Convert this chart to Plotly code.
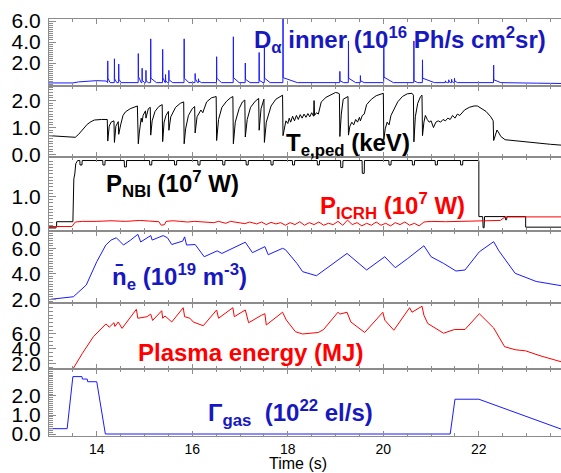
import plotly.graph_objects as go

# ---------------------------------------------------------------- signals --
# D-alpha inner: quiet level before the first ELM, then individual ELM spikes
da_quiet_t = [13.00, 13.50, 13.62, 13.80, 14.00, 14.20]
da_quiet_v = [0.10, 0.10, 0.20, 0.28, 0.32, 0.28]
da_floor = 0.13
elm_t = [14.23, 14.37, 14.46, 14.87, 14.95, 15.03, 15.13, 15.38, 15.44, 15.51,
         15.83, 16.06, 16.13, 16.51, 16.86, 17.11, 17.40, 17.51, 17.90, 19.09,
         19.27, 19.52, 20.01, 20.64, 20.82, 21.30, 21.37, 21.43, 21.49, 22.31]
elm_peak = [2.2, 2.4, 1.9, 2.9, 1.5, 1.3, 4.3, 3.3, 0.9, 1.3,
            4.3, 1.0, 0.5, 2.6, 4.5, 2.0, 3.0, 3.5, 6.5, 1.2,
            4.1, 0.8, 3.7, 4.1, 2.3, 0.30, 0.40, 0.45, 0.55, 1.8]
elm_tail = [0.55, 0.50, 0.45, 0.70, 0.35, 0.30, 0.55, 0.60, 0.30, 0.40,
            0.55, 0.50, 0.30, 0.55, 0.60, 0.45, 0.35, 0.55, 0.60, 0.30,
            0.55, 0.30, 0.65, 0.30, 0.55, 0.20, 0.25, 0.25, 0.30, 0.40]
elm_len = [0.05, 0.05, 0.05, 0.06, 0.05, 0.05, 0.12, 0.05, 0.04, 0.08,
           0.10, 0.05, 0.06, 0.10, 0.12, 0.10, 0.08, 0.12, 0.30, 0.08,
           0.15, 0.08, 0.20, 0.08, 0.25, 0.04, 0.04, 0.04, 0.06, 0.15]
da_end_t = [22.70, 23.20, 23.72]
da_end_v = [0.13, 0.08, 0.05]

# pedestal electron temperature (keV)
te_t = [13.00, 13.30, 13.55, 13.62, 13.70, 13.80, 13.88, 13.95, 14.10, 14.22,
        14.23, 14.26, 14.30, 14.36, 14.37, 14.40, 14.45, 14.46, 14.50, 14.55,
        14.60, 14.70, 14.85, 14.87, 14.89, 14.93, 14.95, 14.97, 15.02, 15.03,
        15.08, 15.12, 15.13, 15.16, 15.22, 15.30, 15.37, 15.38, 15.41, 15.45,
        15.50, 15.51, 15.55, 15.65, 15.75, 15.82, 15.83, 15.86, 15.92, 16.00,
        16.05, 16.06, 16.10, 16.18, 16.22, 16.30, 16.40, 16.50, 16.51, 16.55,
        16.62, 16.72, 16.80, 16.85, 16.86, 16.90, 16.98, 17.05, 17.10, 17.11,
        17.15, 17.22, 17.32, 17.39, 17.40, 17.44, 17.50, 17.51, 17.55, 17.65,
        17.75, 17.85, 17.89, 17.90, 17.93, 17.96, 18.00, 18.03, 18.06, 18.10,
        18.14, 18.18, 18.22, 18.26, 18.30, 18.34, 18.38, 18.42, 18.46, 18.50,
        18.54, 18.55, 18.56, 18.60, 18.64, 18.70, 18.80, 18.95, 19.00, 19.05,
        19.08, 19.09, 19.12, 19.16, 19.22, 19.26, 19.27, 19.30, 19.34, 19.38,
        19.42, 19.46, 19.50, 19.52, 19.56, 19.60, 19.65, 19.75, 19.85, 19.95,
        20.00, 20.01, 20.04, 20.08, 20.12, 20.16, 20.20, 20.30, 20.40, 20.50,
        20.60, 20.63, 20.64, 20.67, 20.72, 20.78, 20.81, 20.82, 20.85, 20.88,
        20.92, 20.96, 21.00, 21.05, 21.10, 21.15, 21.20, 21.25, 21.30, 21.35,
        21.40, 21.45, 21.50, 21.55, 21.60, 21.65, 21.70, 21.80, 21.90, 21.97,
        22.05, 22.15, 22.25, 22.30, 22.31, 22.35, 22.38, 22.42, 22.46, 22.55,
        22.80, 23.00, 23.10, 23.30, 23.50, 23.72]
te_v = [0.70, 0.68, 0.64, 0.75, 0.92, 1.12, 1.22, 1.28, 1.30, 1.30,
        0.50, 1.05, 1.20, 1.25, 0.45, 1.05, 1.22, 0.75, 1.10, 1.45,
        1.58, 1.70, 1.80, 0.40, 0.80, 1.35, 1.20, 1.45, 1.62, 1.35,
        1.70, 1.75, 0.72, 1.25, 1.60, 1.78, 1.85, 0.48, 1.20, 1.45,
        1.60, 0.90, 1.40, 1.75, 1.90, 1.95, 0.40, 0.95, 1.45, 1.70,
        1.78, 0.80, 1.40, 1.65, 1.55, 1.95, 2.10, 2.15, 0.52, 1.30,
        1.75, 1.98, 2.10, 2.15, 0.40, 1.20, 1.70, 1.95, 2.02, 0.65,
        1.30, 1.75, 1.98, 2.08, 0.90, 1.70, 2.05, 0.45, 1.20, 1.80,
        2.05, 2.18, 2.20, 0.70, 1.05, 1.25, 1.15, 1.35, 1.20, 1.42,
        1.25, 1.45, 1.30, 1.48, 1.35, 1.50, 1.38, 1.52, 1.40, 1.55,
        1.42, 2.00, 1.45, 1.55, 1.50, 1.95, 2.12, 2.25, 2.30, 2.28,
        2.25, 0.67, 1.50, 2.05, 2.12, 2.15, 0.72, 1.05, 1.20, 1.10,
        1.30, 1.20, 1.38, 1.25, 1.45, 1.50, 1.85, 2.05, 2.18, 2.25,
        2.27, 0.55, 0.95, 1.20, 1.10, 1.45, 1.60, 1.95, 2.15, 2.25,
        2.27, 2.20, 0.47, 1.40, 1.90, 2.15, 2.20, 0.70, 1.20, 1.45,
        1.30, 1.20, 1.25, 1.00, 1.20, 1.25, 1.20, 1.30, 1.25, 1.35,
        1.30, 1.45, 1.35, 1.50, 1.45, 1.55, 1.65, 1.75, 1.80, 1.80,
        1.72, 1.60, 1.40, 1.25, 0.52, 0.75, 0.91, 0.80, 0.67, 0.55,
        0.50, 0.48, 0.45, 0.42, 0.38, 0.35]

# NBI power (1e7 W): flat top with short beam-switching notches
nbi_t = [13.00, 13.16, 13.16, 13.50, 13.52, 13.54, 13.56, 13.60]
nbi_v = [0.04, 0.04, 0.21, 0.21, 1.55, 1.70, 2.02, 2.12]
nbi_top = 2.12
notch_t = [13.67, 14.15, 14.60, 15.13, 15.65, 16.14, 16.66, 17.15, 17.67,
           18.12, 18.64, 19.13, 19.58, 20.14, 20.63, 21.11, 21.64]
notch_v = [1.98, 1.98, 1.92, 1.98, 1.98, 1.98, 1.98, 1.98, 1.98,
           1.98, 1.98, 1.90, 1.72, 1.98, 1.98, 1.98, 1.98]
nbi_end_t = [22.00, 22.00, 22.08, 22.09, 22.11, 22.12, 22.55, 22.56, 22.58,
             22.59, 22.98, 22.98, 23.72]
nbi_end_v = [2.12, 0.37, 0.37, 0.02, 0.02, 0.37, 0.37, 0.27, 0.27,
             0.37, 0.37, 0.04, 0.04]

# ICRH power (1e7 W)
icrh_t = [13.00, 13.48, 13.55, 13.70, 14.00, 14.30, 14.60, 14.90, 15.10, 15.30,
          15.35, 15.42, 15.45, 15.60, 15.75, 15.90, 16.05, 16.30, 16.45, 16.55,
          16.70, 16.80, 16.95, 17.10, 17.20, 17.35, 17.45, 17.55, 17.65, 17.75,
          17.85, 17.95, 18.05, 18.15, 18.25, 18.35, 18.45, 18.55, 18.65, 18.75,
          18.85, 18.95, 19.05, 19.15, 19.25, 19.35, 19.45, 19.55, 19.65, 19.75,
          19.85, 19.95, 20.05, 20.15, 20.25, 20.35, 20.45, 20.55, 20.65, 20.75,
          20.85, 21.00, 21.30, 21.60, 21.90, 22.20, 22.45, 22.55, 23.72]
icrh_v = [0.06, 0.06, 0.20, 0.22, 0.22, 0.24, 0.22, 0.25, 0.23, 0.21,
          0.10, 0.12, 0.22, 0.24, 0.22, 0.20, 0.22, 0.20, 0.18, 0.22,
          0.16, 0.22, 0.18, 0.15, 0.20, 0.14, 0.20, 0.12, 0.19, 0.14,
          0.18, 0.10, 0.18, 0.12, 0.21, 0.10, 0.18, 0.12, 0.20, 0.10,
          0.16, 0.12, 0.22, 0.10, 0.26, 0.12, 0.18, 0.08, 0.16, 0.10,
          0.20, 0.10, 0.16, 0.08, 0.18, 0.12, 0.20, 0.10, 0.16, 0.08,
          0.20, 0.22, 0.21, 0.22, 0.22, 0.23, 0.25, 0.36, 0.36]

# line-averaged density (1e19 m^-3)
ne_t = [13.03, 13.51, 13.78, 14.00, 14.19, 14.30, 14.41, 14.56, 14.71, 14.86,
        14.92, 15.13, 15.16, 15.39, 15.48, 15.57, 15.80, 15.84, 15.88, 16.06,
        16.25, 16.47, 16.52, 16.62, 16.92, 17.11, 17.26, 17.52, 17.59, 17.89,
        17.95, 18.19, 18.31, 18.60, 19.24, 19.65, 20.03, 20.25, 20.51, 20.85,
        21.00, 21.26, 21.52, 21.71, 22.01, 22.31, 22.42, 22.76, 23.20, 23.72]
ne_v = [2.00, 2.20, 3.12, 4.95, 6.26, 6.65, 6.83, 6.26, 6.65, 7.10,
        6.50, 7.00, 6.65, 7.00, 6.83, 6.30, 6.57, 6.90, 6.26, 6.30,
        5.34, 5.70, 5.80, 5.60, 6.13, 6.48, 5.66, 6.13, 5.50, 6.00,
        5.90, 4.82, 4.17, 3.85, 5.60, 4.30, 5.34, 4.48, 5.20, 6.20,
        5.34, 4.82, 4.22, 4.30, 5.73, 6.52, 5.80, 4.04, 3.40, 3.07]

# plasma stored energy (MJ)
w_t = [13.51, 13.70, 13.93, 14.19, 14.22, 14.26, 14.36, 14.38, 14.45, 14.53,
       14.83, 14.86, 15.05, 15.13, 15.17, 15.36, 15.38, 15.43, 15.57, 15.81,
       15.84, 15.95, 16.02, 16.23, 16.51, 16.55, 16.85, 16.88, 17.11, 17.18,
       17.45, 17.52, 17.55, 17.89, 17.97, 18.16, 18.31, 18.64, 18.75, 19.05,
       19.09, 19.24, 19.32, 19.61, 19.99, 20.03, 20.22, 20.55, 20.60, 20.81,
       20.85, 20.93, 21.26, 21.49, 21.71, 22.01, 22.31, 22.54, 22.76, 22.98,
       23.28, 23.72]
w_v = [1.43, 3.43, 5.64, 7.33, 7.20, 6.90, 7.50, 7.00, 7.60, 6.75,
       9.29, 8.10, 8.30, 8.65, 7.80, 9.10, 8.10, 8.40, 7.60, 9.50,
       8.30, 8.10, 7.60, 7.10, 9.20, 8.10, 9.50, 8.30, 9.20, 7.50,
       8.50, 8.70, 7.20, 8.90, 7.85, 6.30, 6.00, 6.20, 6.60, 8.90,
       8.65, 8.90, 7.60, 6.20, 8.90, 7.85, 6.50, 9.50, 8.90, 9.70,
       8.50, 7.40, 6.10, 6.60, 6.60, 8.70, 6.80, 4.30, 3.90, 3.75,
       3.10, 2.30]

# gas fuelling rate (1e22 el/s)
gas_t = [13.00, 13.38, 13.50, 13.69, 13.70, 13.80, 13.81, 14.00, 14.18,
         21.40, 21.50, 22.00, 23.72]
gas_v = [0.28, 0.28, 3.02, 3.02, 2.89, 2.89, 2.75, 2.75, 0.00,
         0.00, 1.83, 1.83, 0.26]

# axis labels
x_ticks = [14, 16, 18, 20, 22]
y_ticks = [[2, 4, 6], [0, 1, 2], [0, 1], [2, 4, 6], [2, 4, 6], [0, 1, 2]]

# ---------------------------------------------------------- assemble traces --
da_x, da_y = list(da_quiet_t), list(da_quiet_v)
for t, pk, tl, ln in zip(elm_t, elm_peak, elm_tail, elm_len):
    da_x += [t - 0.003, t, t + 0.004, t + ln]
    da_y += [da_floor, pk, tl, da_floor]
da_x += da_end_t
da_y += da_end_v

nbi_x, nbi_y = list(nbi_t), list(nbi_v)
for t, v in zip(notch_t, notch_v):
    nbi_x += [t - 0.025, t - 0.02, t + 0.02, t + 0.025]
    nbi_y += [nbi_top, v, v, nbi_top]
nbi_x += nbi_end_t
nbi_y += nbi_end_v

# ------------------------------------------------------------------ layout --
W, H = 561, 473
L = 49
T_RANGE = [13.0, 23.72]
panels = [(19, 86), (86, 157), (157, 231), (231, 303), (303, 369), (369, 436)]
y_ranges = [[-0.19, 6.19], [-0.09, 2.54], [-0.08, 2.23],
            [1.71, 7.36], [1.33, 10.13], [-0.105, 3.42]]
y_minor = [0.2, 0.1, 0.1, 0.2, 0.5, 0.1]

BLUE_LINE = "#1a1aff"
BLUE_TEXT = "#1818c0"
RED = "#ff0000"
AX = "#8c8c8c"


def px(xp):
    return (xp - L) / (W - L)


def py(yp):
    return 1 - yp / H


fig = go.Figure()
series = [
    (da_x, da_y, BLUE_LINE, 1),
    (te_t, te_v, "#000000", 2),
    (nbi_x, nbi_y, "#000000", 3),
    (icrh_t, icrh_v, RED, 3),
    (ne_t, ne_v, BLUE_LINE, 4),
    (w_t, w_v, RED, 5),
    (gas_t, gas_v, BLUE_LINE, 6),
]
for xs, ys, col, k in series:
    sfx = "" if k == 1 else str(k)
    fig.add_trace(go.Scatter(x=xs, y=ys, mode="lines",
                             line=dict(color=col, width=1),
                             xaxis="x" + sfx, yaxis="y" + sfx,
                             showlegend=False, hoverinfo="skip"))

layout = dict(width=W, height=H, margin=dict(l=L, r=0, t=0, b=0),
              paper_bgcolor="white", plot_bgcolor="white",
              font=dict(family="Liberation Sans, Arial, sans-serif", color="black"))

for k, ((top, bot), yr, ticks, mn) in enumerate(zip(panels, y_ranges, y_ticks, y_minor), 1):
    sfx = "" if k == 1 else str(k)
    layout["xaxis" + sfx] = dict(
        domain=[0, 1], anchor="y" + sfx, range=T_RANGE,
        showline=True, linecolor=AX, linewidth=1, mirror="ticks",
        ticks="inside", ticklen=5, tickcolor=AX, tickmode="array",
        tickvals=x_ticks, ticktext=[str(v) for v in x_ticks],
        minor=dict(tickmode="linear", tick0=13, dtick=0.5, ticks="inside",
                   ticklen=3, tickcolor=AX),
        showgrid=False, zeroline=False, showticklabels=(k == 6),
        tickfont=dict(size=14), automargin=False,
    )
    layout["yaxis" + sfx] = dict(
        domain=[py(bot), py(top)], anchor="x" + sfx, range=yr,
        showline=True, linecolor=AX, linewidth=1, mirror=False,
        ticks="inside", ticklen=7, tickcolor=AX, tickmode="array",
        tickvals=ticks, ticktext=[f"{v:.1f}" for v in ticks],
        minor=dict(tickmode="linear", tick0=0, dtick=mn, ticks="inside",
                   ticklen=3.5, tickcolor=AX),
        showgrid=False, zeroline=False, tickfont=dict(size=21),
        ticklabelstandoff=3, automargin=False,
    )

fig.update_layout(**layout)

# time axis title
fig.add_annotation(text="Time (s)", x=px(298), y=py(463), xref="paper", yref="paper",
                   xanchor="center", yanchor="middle", showarrow=False,
                   font=dict(size=16, color="black"))

BOLD = "Liberation Sans, Arial, sans-serif"
labels = [
    ("D<sub>α</sub> inner (10<sup>16</sup> Ph/s cm<sup>2</sup>sr)", 252, 40, BLUE_TEXT),
    ("T<sub>e,ped</sub> (keV)", 284, 145, "#000000"),
    ("P<sub>NBI</sub> (10<sup>7</sup> W)", 104, 184, "#000000"),
    ("P<sub>ICRH</sub> (10<sup>7</sup> W)", 318, 206, RED),
    ("n̄<sub>e</sub> (10<sup>19</sup> m<sup>-3</sup>)", 110, 277, BLUE_TEXT),
    ("Plasma energy (MJ)", 136, 352, RED),
    ("Γ<sub>gas</sub>  (10<sup>22</sup> el/s)", 206, 413, BLUE_TEXT),
]
for txt, xp, yp, col in labels:
    fig.add_annotation(text=f"<b>{txt}</b>", x=px(xp), y=py(yp), xref="paper",
                       yref="paper", xanchor="left", yanchor="middle",
                       showarrow=False, font=dict(family=BOLD, size=24, color=col))

fig.write_html("out.html")
